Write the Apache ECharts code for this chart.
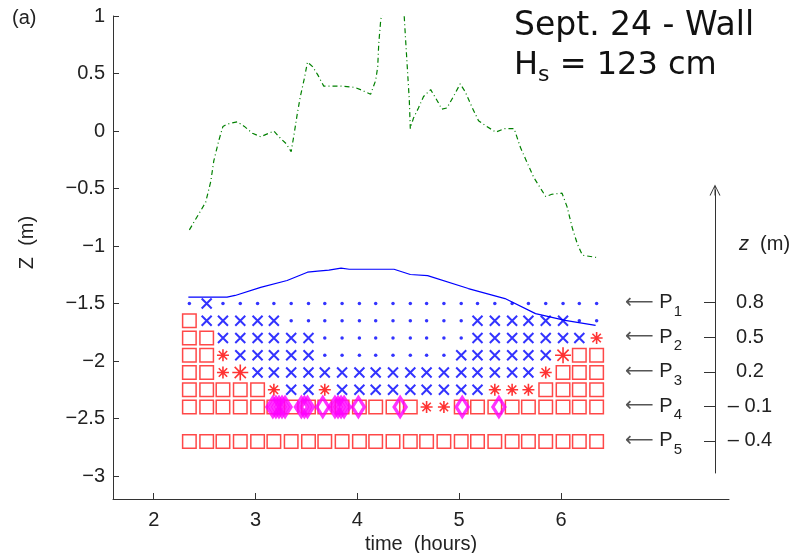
<!DOCTYPE html>
<html><head><meta charset="utf-8">
<script src="https://cdn.jsdelivr.net/npm/echarts@6/dist/echarts.min.js"></script>
<style>html,body{margin:0;padding:0;background:#fff}#c{width:794px;height:553px}</style>
</head><body><div id="c"></div>
<script>
// ---- data ----
const timeTicks = [2, 3, 4, 5, 6];
const timeTickLabels = ['2', '3', '4', '5', '6'];
const zTicks = [-3, -2.5, -2, -1.5, -1, -0.5, 0, 0.5, 1];
const zTickLabels = ['\u22123', '\u22122.5', '\u22122', '\u22121.5', '\u22121', '\u22120.5', '0', '0.5', '1'];
const sensorNames = ['1', '2', '3', '4', '5'];
const sensorZ = [0.8, 0.5, 0.2, -0.1, -0.4];
const sensorZLabels = ['0.8', '0.5', '0.2', '\u2013 0.1', '\u2013 0.4'];

const sampleTimes = [2.35, 2.52, 2.68, 2.85, 3.02, 3.18, 3.35, 3.52, 3.68, 3.85, 4.02, 4.18, 4.35,
  4.52, 4.68, 4.85, 5.02, 5.18, 5.35, 5.52, 5.68, 5.85, 6.02, 6.18, 6.35];
const rowDepths = [-1.5, -1.65, -1.8, -1.95, -2.1, -2.25, -2.4, -2.7];
// d = dot, x = cross, a = asterisk, A = large asterisk, s = square
const rowCodes = [
  'dxddddddddddddddddddddddd',
  'sxxxxxdddddddddddxxxxxxdd',
  'ssxxxxxxdddddddddxxxxxxxa',
  'ssaxxxxxddddddddxxxxxxAss',
  'ssaAxxxxxxxxxxxxxxxxxasss',
  'sssssaxxaxxxxxxxxxaaassss',
  'ssssssssssssssaasssssssss',
  'sssssssssssssssssssssssss'
];
const diamondTimes = [3.17, 3.20, 3.23, 3.26, 3.29, 3.45, 3.48, 3.51, 3.66, 3.78, 3.81, 3.84, 3.87, 4.01, 4.42, 5.03, 5.39];
const diamondDepths = [-2.4, -2.4, -2.4, -2.4, -2.4, -2.4, -2.4, -2.4, -2.4, -2.4, -2.4, -2.4, -2.4, -2.4, -2.4, -2.4, -2.4];

const runupTimes = [2.35, 2.51, 2.56, 2.59, 2.64, 2.68, 2.72, 2.82, 2.89, 2.97, 3.05, 3.13, 3.18, 3.23,
  3.30, 3.35, 3.38, 3.41, 3.44, 3.48, 3.51, 3.56, 3.61, 3.67, 3.84, 3.97, 4.03, 4.13, 4.18, 4.20, 4.21,
  4.23, 4.33, 4.46, 4.47, 4.49, 4.51, 4.52, 4.55, 4.60, 4.65, 4.72, 4.78, 4.83, 4.88, 4.95, 5.01, 5.06,
  5.13, 5.19, 5.27, 5.36, 5.44, 5.54, 5.60, 5.67, 5.73, 5.80, 5.85, 5.91, 6.01, 6.06, 6.11, 6.16, 6.21, 6.35];
const runupZ = [-0.86, -0.62, -0.44, -0.26, -0.08, 0.04, 0.06, 0.08, 0.04, -0.02, -0.05, -0.02, 0.00, -0.05,
  -0.11, -0.18, -0.02, 0.15, 0.30, 0.46, 0.60, 0.56, 0.49, 0.39, 0.39, 0.38, 0.36, 0.32, 0.44, 0.56, 0.76,
  0.97, 1.3, 1.0, 0.85, 0.56, 0.27, 0.02, 0.11, 0.20, 0.30, 0.36, 0.27, 0.19, 0.20, 0.31, 0.41, 0.34,
  0.20, 0.09, 0.04, -0.01, 0.02, 0.02, -0.14, -0.28, -0.40, -0.50, -0.57, -0.55, -0.54, -0.66, -0.84, -0.98, -1.08, -1.10];

const setupTimes = [2.34, 2.72, 2.80, 3.05, 3.31, 3.51, 3.61, 3.72, 3.84, 3.92, 4.36, 4.52, 4.69, 5.09, 5.45, 5.75, 6.04, 6.34];
const setupZ = [-1.445, -1.445, -1.43, -1.36, -1.30, -1.228, -1.219, -1.21, -1.193, -1.202, -1.202, -1.248, -1.257,
  -1.37, -1.457, -1.588, -1.646, -1.69];

// ---- build ----
function cells(code) {
  const out = [];
  rowCodes.forEach((row, r) => {
    for (let k = 0; k < sampleTimes.length; k++) {
      if (row[k] === code) out.push([sampleTimes[k], rowDepths[r]]);
    }
  });
  return out;
}
const FONT = 'Liberation Sans';
const TXT = '#222';
const AX = '#333';
const X_PATH = 'path://M0,0L10,10M10,0L0,10';
const AST_PATH = 'path://M5,0L5,10M0,5L10,5M1.5,1.5L8.5,8.5M8.5,1.5L1.5,8.5';
const ARROW_PATH = 'path://M0,10L5,0L10,10L9,10L5.45,2.6L5.45,10L4.55,10L4.55,2.6L1,10Z';
const clear = 'rgba(0,0,0,0)';

function scatter(data, symbol, size, itemStyle) {
  return { type: 'scatter', xAxisIndex: 0, yAxisIndex: 0, data, symbol, symbolSize: size,
    itemStyle, silent: true, emphasis: { disabled: true }, animation: false };
}

const chart = echarts.init(document.getElementById('c'));
chart.setOption({
  animation: false,
  backgroundColor: '#fff',
  grid: [
    { left: 113, right: 65, top: 16, bottom: 54, outerBoundsMode: 'none', containLabel: false },
    { left: 715, width: 1, top: 190, bottom: 80, outerBoundsMode: 'none', containLabel: false }
  ],
  xAxis: [
    { type: 'value', gridIndex: 0, min: 1.6, max: 7.65,
      axisLine: { onZero: false, lineStyle: { color: AX, width: 1 } },
      axisTick: { inside: true, length: 6, customValues: timeTicks, lineStyle: { color: AX } },
      axisLabel: { customValues: timeTicks, formatter: v => timeTickLabels[timeTicks.indexOf(v)],
        fontSize: 20, fontFamily: FONT, color: TXT, margin: 11 },
      splitLine: { show: false },
      name: 'time  (hours)', nameLocation: 'middle', nameGap: 32,
      nameTextStyle: { fontSize: 20, fontFamily: FONT, color: TXT } },
    { type: 'value', gridIndex: 1, min: 0, max: 1, show: false }
  ],
  yAxis: [
    { type: 'value', gridIndex: 0, min: -3.2, max: 1,
      axisLine: { onZero: false, lineStyle: { color: AX, width: 1 } },
      axisTick: { inside: true, length: 6, customValues: zTicks, lineStyle: { color: AX } },
      axisLabel: { customValues: zTicks, formatter: v => zTickLabels[zTicks.indexOf(v)],
        fontSize: 20, fontFamily: FONT, color: TXT, margin: 8 },
      splitLine: { show: false },
      name: 'Z  (m)', nameLocation: 'middle', nameGap: 76,
      nameTextStyle: { fontSize: 20, fontFamily: FONT, color: TXT, padding: [0, 0, 0, 30] } },
    { type: 'value', gridIndex: 1, min: -0.68, max: 1.78, position: 'left',
      axisLine: { show: true, onZero: false, symbol: ['none', ARROW_PATH], symbolSize: [11, 11],
        lineStyle: { color: AX, width: 1 } },
      axisTick: { show: true, inside: false, length: 11, customValues: sensorZ, lineStyle: { color: AX } },
      axisLabel: { customValues: sensorZ, margin: 33, color: TXT, fontFamily: FONT, fontSize: 20,
        formatter: v => '{a|\u27F5} P{s|' + sensorNames[sensorZ.indexOf(v)] + '}',
        rich: {
          a: { fontSize: 20, fontFamily: 'DejaVu Sans', color: '#555' },
          s: { fontSize: 15, fontFamily: FONT, color: TXT, padding: [18, 0, 0, 1] }
        } },
      splitLine: { show: false } },
    { type: 'value', gridIndex: 1, min: -0.68, max: 1.78, position: 'left',
      axisLine: { show: false, onZero: false }, axisTick: { show: false },
      axisLabel: { customValues: sensorZ, inside: true, margin: 35, align: 'center',
        formatter: v => sensorZLabels[sensorZ.indexOf(v)],
        fontSize: 20, fontFamily: FONT, color: TXT },
      splitLine: { show: false } }
  ],
  graphic: [
    { type: 'text', left: 12, top: 8, silent: true,
      style: { text: '(a)', font: '20px "Liberation Sans"', fill: TXT } },
    { type: 'text', left: 514, top: 10, silent: true,
      style: { text: 'Sept. 24 - Wall', font: '33px "DejaVu Sans"', fill: '#111' } },
    { type: 'text', left: 514, top: 50, silent: true,
      style: { text: '{h|H}{s|s}{h| = 123 cm}', fill: '#111',
        rich: {
          h: { fontSize: 32, fontFamily: 'DejaVu Sans', fill: '#111' },
          s: { fontSize: 22, fontFamily: 'DejaVu Sans', fill: '#111', padding: [18, 0, 0, 0] }
        } } },
    { type: 'text', left: 739, top: 234, silent: true,
      style: { text: '{i|z}  (m)', font: '20px "Liberation Sans"', fill: TXT,
        rich: { i: { fontSize: 20, fontFamily: FONT, fontStyle: 'italic', fill: TXT } } } }
  ],
  series: [
    scatter(cells('s'), 'rect', 13.5, { color: clear, borderColor: '#ff1a1a', borderWidth: 1.5 }),
    scatter(cells('a'), AST_PATH, 12, { color: clear, borderColor: '#ff0000', borderWidth: 1.6 }),
    scatter(cells('A'), AST_PATH, 16, { color: clear, borderColor: '#ff0000', borderWidth: 1.6 }),
    scatter(cells('x'), X_PATH, 10, { color: clear, borderColor: '#0000ff', borderWidth: 2 }),
    scatter(cells('d'), 'circle', 3.5, { color: '#0000ff' }),
    { type: 'line', data: setupTimes.map((t, i) => [t, setupZ[i]]), symbol: 'none', showSymbol: false,
      lineStyle: { color: '#0000ff', width: 1.2 }, silent: true, clip: true, animation: false },
    { type: 'line', data: runupTimes.map((t, i) => [t, runupZ[i]]), symbol: 'none', showSymbol: false,
      lineStyle: { color: '#008000', width: 1.2, type: [5, 3, 1, 3] }, silent: true, clip: true, animation: false },
    scatter(diamondTimes.map((t, i) => [t, diamondDepths[i]]), 'diamond', [12, 19],
      { color: clear, borderColor: '#ff00ff', borderWidth: 3.5 })
  ]
});
</script>
</body></html>
